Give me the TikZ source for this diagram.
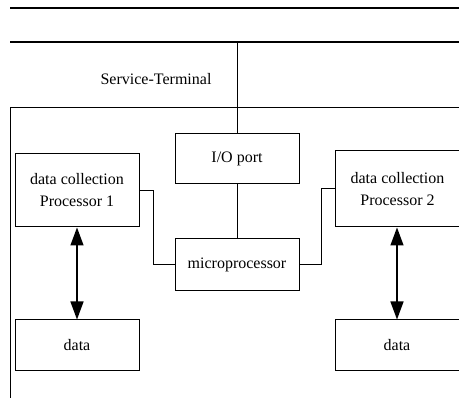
\documentclass[tikz,border=0pt]{standalone}
\usepackage{fontspec}
\setmainfont{Liberation Serif}
\usepackage{tikz}
\usetikzlibrary{positioning,arrows.meta}

\begin{document}
\begin{tikzpicture}[x=1pt,y=-1pt,
    unit/.style={rectangle,draw,line width=1pt,minimum width=124pt,align=center,
        font=\fontsize{16}{22}\selectfont,inner sep=0pt},
    bus/.style={line width=2pt},
    wire/.style={line width=1pt},
    link/.style={{Triangle[length=18pt,width=13pt]}-{Triangle[length=18pt,width=13pt]},line width=1.5pt}]
    \useasboundingbox (0,0) rectangle (459,401);

    % Bus lines
    \coordinate (busA) at (10,8);
    \coordinate (busB) at (10,42);
    \draw[bus] (busA) -- (459,8);
    \draw[bus] (busB) -- (459,42);
    \coordinate (tap) at (237,42);

    \node[font=\fontsize{16}{18}\selectfont] (term) at (156,79) {Service-Terminal};

    % Terminal frame
    \draw[wire] (459,108) -- (10,108) -- (10,398);

    % Centre column
    \node[unit,minimum height=50pt] (io) at (237,159) {I/O port};
    \node[unit,minimum height=52pt] (micro) at (237,265) {microprocessor};

    % Data collection processors
    \node[unit,minimum height=73pt] (dcp1) at (77,190.5) {data collection\\Processor 1};
    \node[unit,minimum height=76pt] (dcp2) at (397.5,189) {data collection\\Processor 2};

    % Data stores
    \node[unit,minimum height=51pt] (data1) at (77,345.5) {data};
    \node[unit,minimum height=51pt] (data2) at (397,345.5) {data};

    % Connections
    \draw[wire] (tap) -- (io.north);
    \draw[wire] (io.south) -- (micro.north);
    \coordinate (kneeL) at (153,0);
    \coordinate (kneeR) at (321,0);
    \draw[wire] (dcp1.east) -| (kneeL |- micro.west) -- (micro.west);
    \draw[wire] (micro.east) -| (kneeR |- dcp2.west) -- (dcp2.west);
    \draw[link] (dcp1.south) -- (data1.north);
    \draw[link] (dcp2.south -| data2.north) -- (data2.north);

\end{tikzpicture}
\end{document}
